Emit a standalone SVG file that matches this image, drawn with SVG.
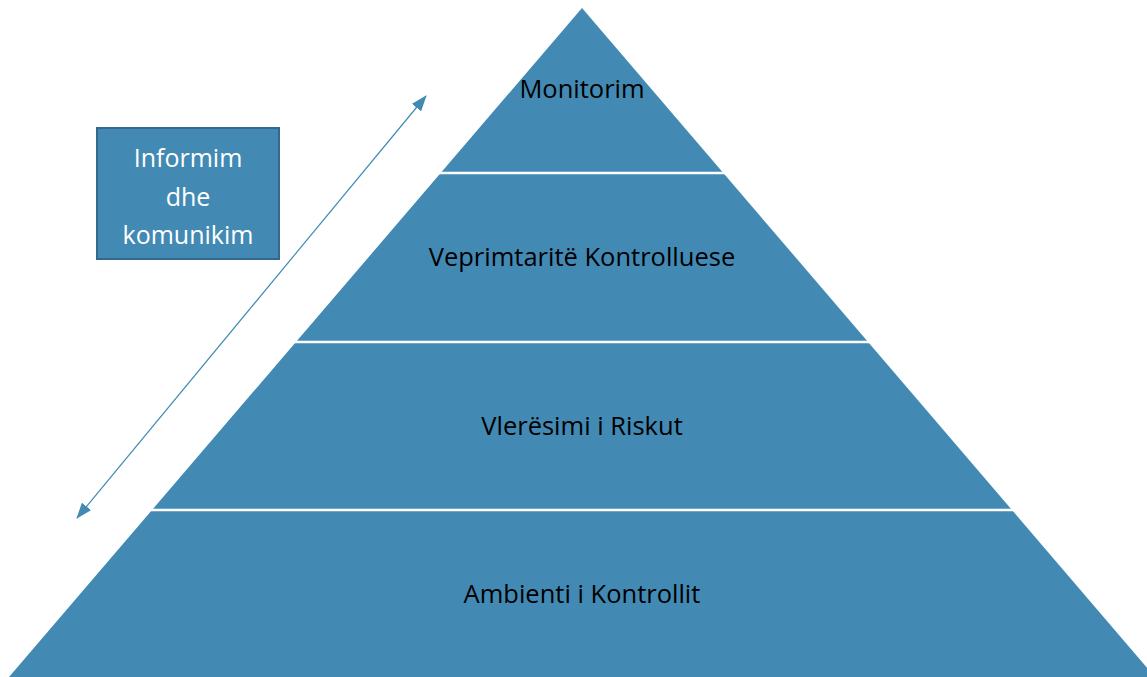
<svg xmlns="http://www.w3.org/2000/svg" width="1147" height="677" viewBox="0 0 1147 677">
<style>
.lbl{font-family:"Open Sans","Noto Sans","Liberation Sans",sans-serif;font-size:25.5px;fill:#000;text-anchor:middle}
.box{font-family:"Open Sans","Noto Sans","Liberation Sans",sans-serif;font-size:25px;fill:#fff;text-anchor:middle}
.sep{stroke:#fff;stroke-width:2.5}
</style>
<defs>
<marker id="ah" viewBox="0 0 16 12" refX="15" refY="6" markerWidth="16" markerHeight="12" markerUnits="userSpaceOnUse" orient="auto-start-reverse">
<path d="M0,0 L16,6 L0,12 Z" fill="#428AB4"/>
</marker>
</defs>
<rect width="1147" height="677" fill="#fff"/>
<g id="pyramid">
<polygon points="582,8 1155,677 9,677" fill="#428AB4"/>
<line class="sep" x1="380" y1="173" x2="790" y2="173"/>
<line class="sep" x1="250" y1="342" x2="920" y2="342"/>
<line class="sep" x1="100" y1="510" x2="1060" y2="510"/>
</g>
<g id="monitorim"><text class="lbl" x="582" y="98">Monitorim</text></g>
<g id="veprimtarite"><text class="lbl" x="582" y="266">Veprimtaritë Kontrolluese</text></g>
<g id="vleresimi"><text class="lbl" x="582" y="435">Vlerësimi i Riskut</text></g>
<g id="ambienti"><text class="lbl" x="582" y="603">Ambienti i Kontrollit</text></g>
<g id="informim">
<rect x="97" y="128" width="182" height="131" fill="#428AB4" stroke="#33698C" stroke-width="2"/>
<text class="box" x="188" y="167">Informim</text>
<text class="box" x="188" y="206">dhe</text>
<text class="box" x="188" y="244">komunikim</text>
</g>
<g id="connectors">
<line x1="77" y1="518" x2="426" y2="96" stroke="#428AB4" stroke-width="1.2" marker-start="url(#ah)" marker-end="url(#ah)"/>
</g>
</svg>
